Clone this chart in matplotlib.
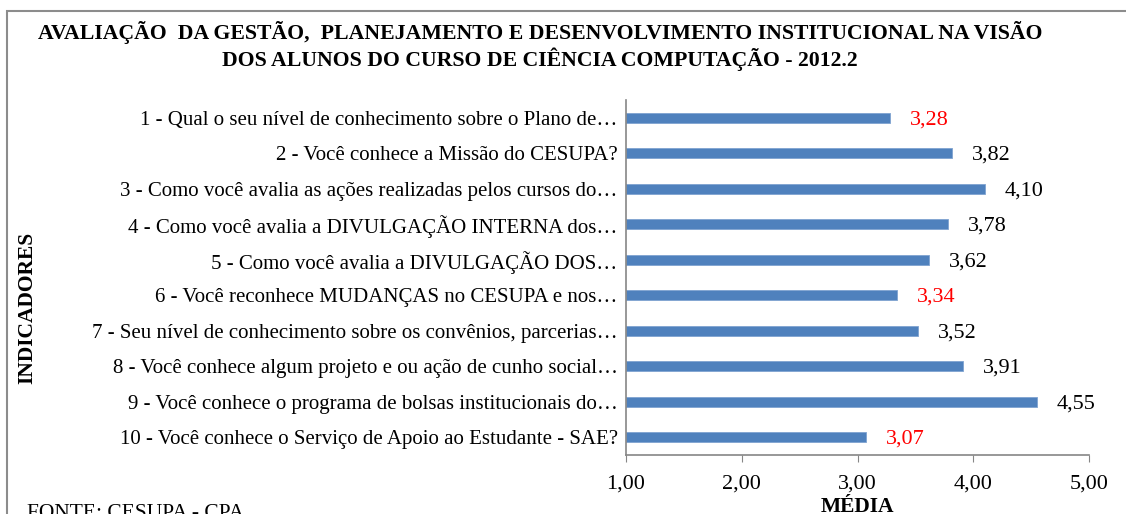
import matplotlib
matplotlib.use("Agg")
import matplotlib.pyplot as plt
from matplotlib.patches import Rectangle

plt.rcParams['font.family'] = ['Liberation Serif', 'DejaVu Serif']

categories = [
    "1 - Qual o seu nível de conhecimento sobre o Plano de…",
    "2 - Você conhece a Missão do CESUPA?",
    "3 - Como você avalia as ações realizadas pelos cursos do…",
    "4 - Como você avalia a DIVULGAÇÃO INTERNA dos…",
    "5 - Como você avalia a DIVULGAÇÃO DOS…",
    "6 - Você reconhece MUDANÇAS no CESUPA e nos…",
    "7 - Seu nível de conhecimento sobre os convênios, parcerias…",
    "8 - Você conhece algum projeto e ou ação de cunho social…",
    "9 - Você conhece o programa de bolsas institucionais do…",
    "10 - Você conhece o Serviço de Apoio ao Estudante - SAE?",
]
values = [3.28, 3.82, 4.10, 3.78, 3.62, 3.34, 3.52, 3.91, 4.55, 3.07]
highlight = [True, False, False, False, False, True, False, False, False, True]
xticks = [1, 2, 3, 4, 5]
title = ("AVALIAÇÃO  DA GESTÃO,  PLANEJAMENTO E DESENVOLVIMENTO INSTITUCIONAL NA VISÃO\n"
         "DOS ALUNOS DO CURSO DE CIÊNCIA COMPUTAÇÃO - 2012.2")

W, H = 1126, 514
fig = plt.figure(figsize=(W / 100, H / 100), dpi=100)
ax = fig.add_axes([626 / W, 1 - 455 / H, (1089 - 626) / W, (455 - 100) / H])

pos = list(range(len(categories)))
ax.barh(pos, [v - 1 for v in values], left=1, height=0.28, color='#4F81BD',
        edgecolor='#7FA3D0', linewidth=0.6)
ax.set_ylim(len(categories) - 0.5, -0.5)
ax.set_xlim(1, 5)
ax.set_yticks(pos)
ax.set_yticklabels(categories, fontsize=15)
ax.set_xticks(xticks)
ax.set_xticklabels([f"{t:.2f}".replace('.', ',') for t in xticks], fontsize=16)
ax.tick_params(axis='y', length=0, pad=6)
ax.tick_params(axis='x', length=5, color='#868686', pad=9, direction='out')

for s in ['top', 'right']:
    ax.spines[s].set_visible(False)
for s in ['left', 'bottom']:
    ax.spines[s].set_color('#868686')
    ax.spines[s].set_linewidth(1.2)

for i, (v, h) in enumerate(zip(values, highlight)):
    ax.annotate(f"{v:.2f}".replace('.', ','), xy=(v, i), xytext=(20, -2),
                textcoords='offset pixels', va='center', ha='left',
                fontsize=16, color='#FF0000' if h else 'black')

fig.text(540 / W, 1 - 46 / H, title, ha='center', va='center', fontsize=15.7,
         fontweight='bold', linespacing=1.15)
fig.text(27 / W, 1 - 308 / H, "INDICADORES", rotation=90, ha='center', va='center',
         fontsize=15.5, fontweight='bold')
fig.text(857 / W, 1 - 507 / H, "MÉDIA", ha='center', va='center', fontsize=15.5,
         fontweight='bold')
fig.text(27 / W, 1 - 514 / H, "FONTE: CESUPA - CPA", ha='left', va='center', fontsize=15.5)

fig.patches.append(Rectangle((7 / W, -0.2), 1.2, 1.2 - 11.5 / H, transform=fig.transFigure,
                             fill=False, edgecolor='#8C8C8C', linewidth=1.5))

fig.savefig("out.png", dpi=100)
